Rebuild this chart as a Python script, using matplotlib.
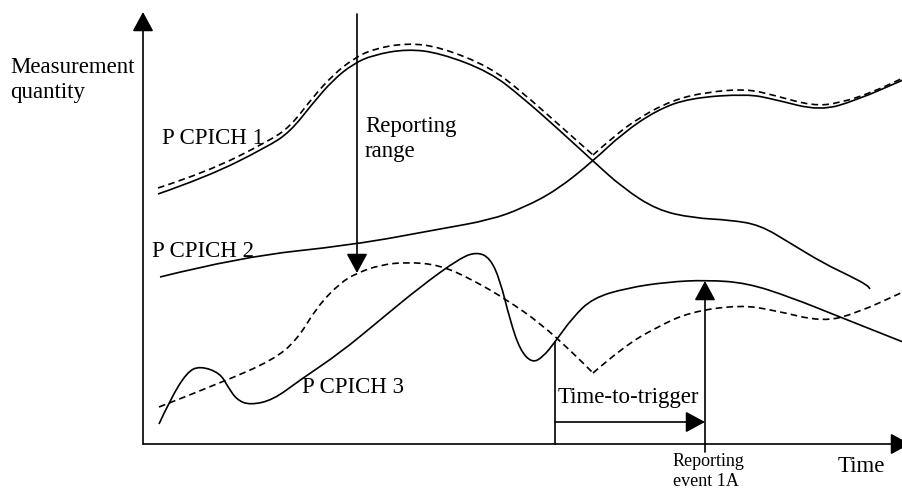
import matplotlib.pyplot as plt
from matplotlib.path import Path
from matplotlib.patches import PathPatch, FancyArrowPatch

plt.rcParams['font.family'] = ['Liberation Serif', 'DejaVu Serif']

# traced curves, (time, level) in drawing units; y grows downward
cpich1_x = [158, 207, 267, 290, 313, 333, 353, 373, 407, 440, 490, 523, 557, 593,
            623, 657, 693, 730, 760, 790, 823, 850, 867, 870]
cpich1_y = [194, 177, 147, 132, 103, 80, 64, 55, 49, 53, 72, 98, 128, 161,
            188, 210, 218, 220, 225, 243, 263, 276, 285, 289]

cpich2_x = [160, 240, 353, 440, 490, 523, 557, 593, 623, 657, 690, 747, 773,
            820, 857, 903]
cpich2_y = [277, 257, 245, 229, 220, 208, 190, 161, 133, 110, 98, 94, 99,
            111, 100, 80]

cpich3_x = [159, 170, 187, 200, 220, 228, 237, 250, 273, 300, 340, 380, 420,
            460, 477, 490, 500, 510, 520, 532, 543, 555, 573, 593, 627, 667,
            707, 747, 790, 840, 903]
cpich3_y = [424, 400, 372, 366, 373, 387, 400, 405, 400, 380, 353, 320, 287,
            258, 252, 258, 280, 320, 350, 363, 357, 342, 317, 298, 288, 282,
            280, 283, 297, 317, 342]

# best cell level (upper dashed) and lower edge of reporting range
best_x = [158, 207, 267, 290, 313, 333, 353, 373, 407, 440, 490, 523, 557, 593,
          613, 640, 673, 707, 747, 773, 813, 840, 873, 903]
best_y = [188, 172, 142, 127, 97, 75, 59, 49, 43, 47, 67, 93, 123, 155,
          137, 117, 100, 92, 89, 95, 106, 103, 92, 78]

range_x = [159, 223, 273, 297, 317, 340, 357, 380, 407, 440, 473, 507, 540, 573,
           593, 623, 657, 690, 740, 773, 823, 857, 903]
range_y = [407, 382, 360, 340, 307, 283, 273, 265, 262, 265, 280, 300, 323, 353,
           373, 347, 327, 312, 305, 310, 322, 313, 292]


def smooth(ax, xs, ys, **kw):
    pts = list(zip(xs, ys))
    verts = [pts[0]]
    codes = [Path.MOVETO]
    for i in range(1, len(pts) - 1):
        mx = (pts[i][0] + pts[i + 1][0]) / 2
        my = (pts[i][1] + pts[i + 1][1]) / 2
        verts += [pts[i], (mx, my)]
        codes += [Path.CURVE3, Path.CURVE3]
    verts.append(pts[-1])
    codes.append(Path.LINETO)
    ax.add_patch(PathPatch(Path(verts, codes), fill=False, capstyle='butt', **kw))


def split_at(xs, ys, xc):
    i = xs.index(xc)
    return (xs[:i + 1], ys[:i + 1]), (xs[i:], ys[i:])


def arrow(ax, p0, p1):
    ax.add_patch(FancyArrowPatch(p0, p1, arrowstyle='-|>,head_length=12,head_width=6.5',
                                 mutation_scale=1, lw=1.2, color='black',
                                 shrinkA=0, shrinkB=0))


fig = plt.figure(figsize=(9.03, 4.91), dpi=100)
ax = fig.add_axes([0, 0, 1, 1])
ax.set_xlim(0, 903)
ax.set_ylim(491, 0)
ax.axis('off')

solid = dict(color='black', lw=1.2)
dashed = dict(color='black', lw=1.2, linestyle=(0, (4, 2.5)))

smooth(ax, cpich1_x, cpich1_y, **solid)
smooth(ax, cpich2_x, cpich2_y, **solid)
smooth(ax, cpich3_x, cpich3_y, **solid)
for part in split_at(best_x, best_y, 593):
    smooth(ax, *part, **dashed)
for part in split_at(range_x, range_y, 593):
    smooth(ax, *part, **dashed)

# axes
arrow(ax, (143, 444), (143, 12))
arrow(ax, (143, 444), (910, 444))

# reporting range, time-to-trigger, reporting event
arrow(ax, (357, 14), (357, 273))
ax.plot([555, 555], [342, 444], color='black', lw=1.2)
arrow(ax, (555, 422), (705, 422))
arrow(ax, (705, 452), (705, 281))

big = dict(fontsize=16.5, va='baseline', ha='left')
ax.text(10, 73, 'Measurement', **big)
ax.text(10, 98, 'quantity', **big)
ax.text(162, 144, 'P CPICH 1', **big)
ax.text(152, 257, 'P CPICH 2', **big)
ax.text(302, 393, 'P CPICH 3', **big)
ax.text(365, 132, 'Reporting', **big)
ax.text(365, 157, 'range', **big)
ax.text(558, 403, 'Time-to-trigger', **big)
ax.text(838, 472, 'Time', **big)
ax.text(673, 466, 'Reporting', fontsize=13, va='baseline')
ax.text(673, 486, 'event 1A', fontsize=13, va='baseline')

fig.savefig('out.png', dpi=100)
